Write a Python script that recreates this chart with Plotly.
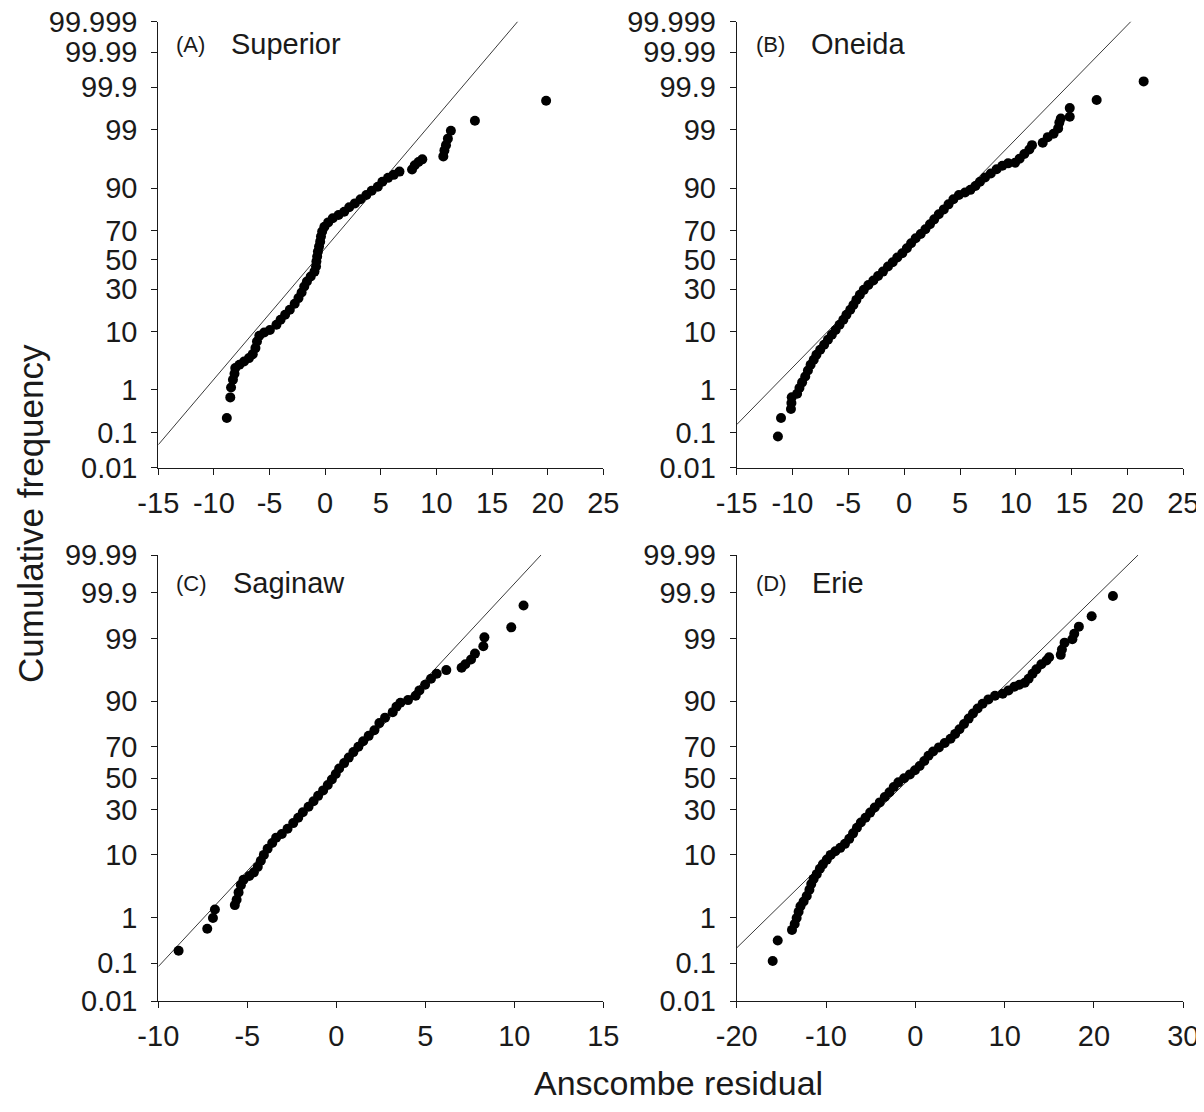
import plotly.graph_objects as go
from statistics import NormalDist

ND = NormalDist()

# ---------------- data (residual, cumulative frequency %) ----------------
sup_x = [-8.84, -8.53, -8.46, -8.29, -8.15, -8.08, -7.71, -7.29, -6.85, -6.51,
         -6.27, -6.13, -5.92, -5.48, -4.97, -4.38, -4.01, -3.60, -3.18, -2.74,
         -2.40, -2.12, -1.88, -1.64, -1.30, -0.96, -0.82, -0.79, -0.72, -0.65,
         -0.55, -0.45, -0.38, -0.27, -0.07, 0.27, 0.68, 1.20, 1.71, 2.16,
         2.67, 3.18, 3.70, 4.18, 4.73, 5.14, 5.65, 6.16, 6.68, 7.81,
         8.05, 8.39, 8.73, 10.62, 10.72, 10.86, 11.03, 11.30, 13.46, 19.86]
sup_p = [0.232, 0.693, 1.12, 1.60, 2.08, 2.64, 3.03, 3.45, 3.94, 4.58,
         5.72, 7.21, 8.71, 9.70, 10.5, 12.3, 14.2, 16.3, 18.6, 21.6,
         24.7, 28.0, 31.7, 34.9, 38.3, 41.7, 45.3, 48.8, 52.4, 55.9,
         59.4, 62.8, 66.2, 69.4, 72.4, 74.9, 77.2, 78.9, 80.6, 82.7,
         84.4, 86.1, 87.7, 89.2, 90.5, 91.9, 92.9, 93.6, 94.3, 94.7,
         95.5, 96.0, 96.4, 96.8, 97.5, 98.0, 98.5, 98.96, 99.36, 99.78]

one_x = [-11.31, -11.03, -10.14, -10.10, -10.07, -9.59, -9.38, -9.14, -8.86, -8.62,
         -8.38, -8.10, -7.86, -7.52, -7.17, -6.83, -6.48, -6.14, -5.79, -5.45,
         -5.17, -4.83, -4.55, -4.28, -3.97, -3.62, -3.21, -2.76, -2.34, -1.90,
         -1.45, -1.03, -0.62, -0.17, 0.24, 0.62, 1.03, 1.48, 1.90, 2.31,
         2.69, 3.10, 3.55, 3.97, 4.41, 4.90, 5.45, 5.93, 6.38, 6.79,
         7.24, 7.76, 8.28, 8.79, 9.31, 9.93, 10.34, 10.76, 11.21, 11.45,
         12.41, 12.86, 13.38, 13.79, 13.90, 14.03, 14.83, 14.83, 17.24, 21.45]
one_p = [0.079, 0.232, 0.38, 0.52, 0.70, 0.83, 1.09, 1.42, 1.85, 2.39,
         3.03, 3.69, 4.47, 5.38, 6.43, 7.63, 9.00, 10.5, 12.3, 14.2,
         16.3, 18.6, 21.0, 23.7, 26.6, 29.6, 32.7, 35.6, 38.7, 41.7,
         45.3, 48.3, 51.7, 54.7, 58.3, 61.7, 65.1, 67.9, 70.8, 73.8,
         76.6, 79.3, 81.7, 84.0, 86.1, 87.7, 88.6, 89.5, 90.7, 91.9,
         93.0, 93.9, 94.75, 95.4, 95.8, 95.9, 96.5, 97.1, 97.6, 98.0,
         98.2, 98.6, 98.8, 99.07, 99.30, 99.43, 99.48, 99.67, 99.79, 99.93]

sag_x = [-8.86, -7.25, -6.93, -6.82, -5.70, -5.60, -5.49, -5.36, -5.21, -4.89,
         -4.63, -4.41, -4.24, -4.07, -3.86, -3.60, -3.38, -3.06, -2.74, -2.42,
         -2.14, -1.88, -1.56, -1.28, -1.02, -0.74, -0.48, -0.25, -0.03, 0.16,
         0.44, 0.70, 0.96, 1.24, 1.51, 1.82, 2.14, 2.42, 2.74, 3.17,
         3.38, 3.60, 4.03, 4.46, 4.67, 4.99, 5.32, 5.64, 6.18, 7.04,
         7.25, 7.57, 7.79, 8.26, 8.32, 9.83, 10.52]
sag_p = [0.199, 0.595, 0.98, 1.42, 1.70, 2.12, 2.82, 3.70, 4.50, 5.11,
         5.78, 6.92, 8.39, 9.99, 11.9, 13.9, 16.0, 17.5, 19.9, 22.6,
         25.4, 28.4, 31.6, 34.9, 38.3, 41.8, 45.4, 49.0, 52.7, 56.3,
         59.8, 63.3, 66.7, 69.9, 73.0, 75.9, 78.7, 82.0, 84.3, 86.4,
         88.3, 89.5, 90.3, 91.5, 92.8, 94.0, 95.1, 95.9, 96.4, 96.7,
         97.1, 97.6, 98.1, 98.6, 99.05, 99.40, 99.80]

eri_x = [-15.97, -15.41, -13.81, -13.51, -13.29, -13.07, -12.86, -12.51, -12.16, -11.86,
         -11.65, -11.39, -11.04, -10.69, -10.35, -9.91, -9.48, -8.96, -8.40, -7.88,
         -7.40, -6.97, -6.54, -6.10, -5.58, -5.06, -4.55, -3.98, -3.42, -2.90,
         -2.42, -1.90, -1.26, -0.61, -0.04, 0.48, 1.00, 1.47, 1.99, 2.64,
         3.29, 3.94, 4.46, 4.94, 5.45, 5.97, 6.45, 6.97, 7.53, 8.18,
         8.92, 9.78, 10.43, 11.08, 11.65, 12.25, 12.68, 13.12, 13.55, 14.11,
         14.68, 14.98, 16.28, 16.41, 16.71, 17.58, 17.79, 18.31, 19.74, 22.12]
eri_p = [0.114, 0.337, 0.565, 0.742, 0.98, 1.29, 1.62, 1.97, 2.45, 3.11,
         3.85, 4.62, 5.44, 6.51, 7.49, 8.68, 9.99, 11.1, 12.2, 13.6,
         15.5, 17.8, 20.3, 22.9, 25.4, 28.2, 31.1, 34.2, 37.6, 40.6,
         44.0, 47.1, 49.8, 52.4, 55.1, 57.9, 61.2, 64.5, 67.1, 69.5,
         72.0, 74.4, 76.9, 79.2, 81.6, 83.9, 85.9, 87.7, 89.2, 90.5,
         91.5, 92.0, 92.8, 93.6, 94.0, 94.4, 95.1, 95.9, 96.5, 97.1,
         97.5, 97.8, 98.0, 98.4, 98.8, 98.97, 99.19, 99.42, 99.65, 99.88]

# fitted normal reference lines: end points (residual, cumulative %)
line_sup_x = [-15, 17.3]
line_sup_p = [0.047, 99.999]
line_one_x = [-15, 20.3]
line_one_p = [0.16, 99.999]
line_sag_x = [-10, 11.5]
line_sag_p = [0.083, 99.99]
line_eri_x = [-20, 24.94]
line_eri_p = [0.23, 99.99]

tick_top = ["0.01", "0.1", "1", "10", "30", "50", "70", "90", "99", "99.9", "99.99", "99.999"]
tick_bot = ["0.01", "0.1", "1", "10", "30", "50", "70", "90", "99", "99.9", "99.99"]
xticks_ab = ["-15", "-10", "-5", "0", "5", "10", "15", "20", "25"]
xticks_c = ["-10", "-5", "0", "5", "10", "15"]
xticks_d = ["-20", "-10", "0", "10", "20", "30"]

panel_tags = ["(A)", "(B)", "(C)", "(D)"]
panel_names = ["Superior", "Oneida", "Saginaw", "Erie"]


def probit(p_list):
    return [ND.inv_cdf(p / 100.0) for p in p_list]


# the page has an 8px body margin: the figure sits at (8, 8) in the window
OFF = 8
FW, FH = 1196, 1096
FONT = "Liberation Sans, Arial, sans-serif"
INK = "#1a1a1a"


def fx(px):
    return (px - OFF) / FW


def fy(py):
    return 1 - (py - OFF) / FH


fig = go.Figure()

panels = [
    (sup_x, sup_p, line_sup_x, line_sup_p, "x", "y"),
    (one_x, one_p, line_one_x, line_one_p, "x2", "y2"),
    (sag_x, sag_p, line_sag_x, line_sag_p, "x3", "y3"),
    (eri_x, eri_p, line_eri_x, line_eri_p, "x4", "y4"),
]

for px_, pp_, lx, lp, xa, ya in panels:
    fig.add_trace(go.Scatter(x=lx, y=probit(lp), mode="lines",
                             line=dict(color="#3a3a3a", width=1),
                             xaxis=xa, yaxis=ya, showlegend=False, hoverinfo="skip"))
    fig.add_trace(go.Scatter(x=px_, y=probit(pp_), mode="markers",
                             marker=dict(color="black", size=10, line=dict(width=0)),
                             xaxis=xa, yaxis=ya, showlegend=False))

# window-pixel geometry of the four plot areas
left_dom = [fx(158.3), fx(603.3)]
right_dom = [fx(736.7), fx(1183.3)]
top_dom = [fy(467.7), fy(21.6)]
bot_dom = [fy(1001.0), fy(555.0)]

common_x = dict(showgrid=False, zeroline=False, showline=True, linecolor=INK, linewidth=1,
                ticks="outside", ticklen=6, tickwidth=1, tickcolor=INK, automargin=False,
                tickfont=dict(family=FONT, size=29, color=INK), ticklabelstandoff=3,
                tickmode="array", ticklabeloverflow="allow")
common_y = dict(showgrid=False, zeroline=False, showline=True, linecolor=INK, linewidth=1,
                ticks="outside", ticklen=6, tickwidth=1, tickcolor=INK, automargin=False,
                tickfont=dict(family=FONT, size=29, color=INK), ticklabelstandoff=8,
                tickmode="array", ticklabeloverflow="allow")

ytop = dict(common_y, range=[ND.inv_cdf(0.0001), ND.inv_cdf(0.99999) + 1e-9],
            tickvals=probit([float(t) for t in tick_top]), ticktext=tick_top, domain=top_dom)
ybot = dict(common_y, range=[ND.inv_cdf(0.0001), ND.inv_cdf(0.9999) + 1e-9],
            tickvals=probit([float(t) for t in tick_bot]), ticktext=tick_bot, domain=bot_dom)

fig.update_layout(
    width=FW, height=FH, autosize=False,
    margin=dict(l=0, r=0, t=0, b=0, autoexpand=False),
    paper_bgcolor="white", plot_bgcolor="white",
    font=dict(family=FONT, color=INK),
    xaxis=dict(common_x, range=[-15, 25], tickvals=[float(t) for t in xticks_ab],
               ticktext=xticks_ab, domain=left_dom, anchor="y"),
    yaxis=dict(ytop, anchor="x"),
    xaxis2=dict(common_x, range=[-15, 25], tickvals=[float(t) for t in xticks_ab],
                ticktext=xticks_ab, domain=right_dom, anchor="y2"),
    yaxis2=dict(ytop, anchor="x2"),
    xaxis3=dict(common_x, range=[-10, 15], tickvals=[float(t) for t in xticks_c],
                ticktext=xticks_c, domain=left_dom, anchor="y3"),
    yaxis3=dict(ybot, anchor="x3"),
    xaxis4=dict(common_x, range=[-20, 30], tickvals=[float(t) for t in xticks_d],
                ticktext=xticks_d, domain=right_dom, anchor="y4"),
    yaxis4=dict(ybot, anchor="x4"),
)

tag_pos = [(174, 229, 44), (754, 809, 44), (174, 231, 583), (754, 810, 583)]
annos = []
for (tx, nx, ty), tag, name in zip(tag_pos, panel_tags, panel_names):
    annos.append(dict(text=tag, x=fx(tx), y=fy(ty), xref="paper", yref="paper",
                      xanchor="left", yanchor="middle", showarrow=False,
                      font=dict(family=FONT, size=22, color=INK)))
    annos.append(dict(text=name, x=fx(nx), y=fy(ty), xref="paper", yref="paper",
                      xanchor="left", yanchor="middle", showarrow=False,
                      font=dict(family=FONT, size=29, color=INK)))
annos.append(dict(text="Cumulative frequency", x=fx(30), y=fy(514), xref="paper", yref="paper",
                  xanchor="center", yanchor="middle", textangle=-90, showarrow=False,
                  font=dict(family=FONT, size=35, color=INK)))
annos.append(dict(text="Anscombe residual", x=fx(678), y=fy(1083), xref="paper", yref="paper",
                  xanchor="center", yanchor="middle", showarrow=False,
                  font=dict(family=FONT, size=34, color=INK)))
fig.update_layout(annotations=annos)

fig.write_html("out.html")
